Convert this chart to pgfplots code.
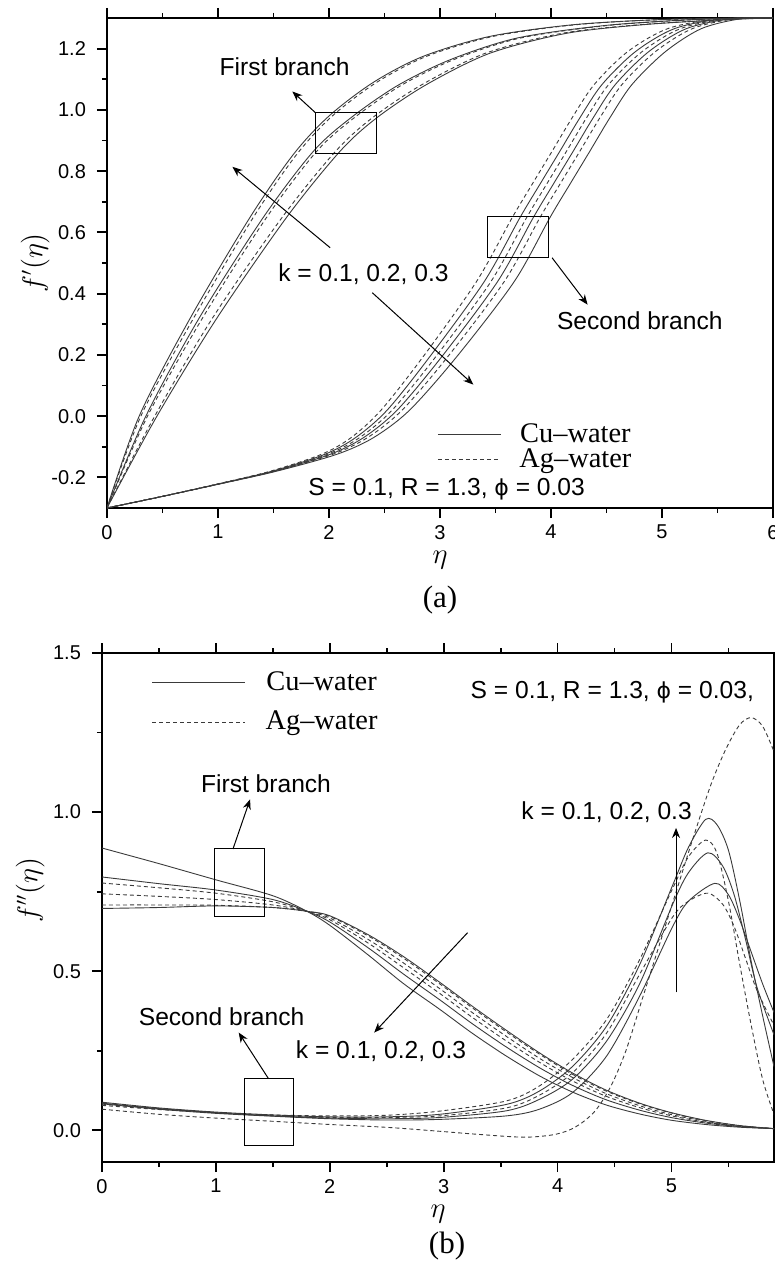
\documentclass[border=0pt]{standalone}
\usepackage{fontspec}
\setmainfont{Liberation Serif}
\setsansfont{Liberation Sans}
\newfontfamily\phifont{DejaVu Sans}
\usepackage{pgfplots}
\pgfplotsset{compat=1.18}
\usetikzlibrary{arrows.meta}

\definecolor{curveInk}{HTML}{3A3A3A}

\pgfplotsset{
  panel/.style={
    scale only axis,
    axis line style={line width=1pt, black},
    tick align=outside,
    xtick pos=both, xticklabel pos=lower,
    ytick pos=left,
    major tick length=5pt, minor tick length=2.5pt,
    every tick/.style={line width=0.9pt, black},
    tick label style={font=\fontsize{10}{12}\sffamily, /pgf/number format/assume math mode=true},
    yticklabel style={xshift=-2pt, /pgf/number format/.cd, fixed, fixed zerofill, precision=1},
    label style={font=\fontsize{13.5}{16}\selectfont},
    every axis plot/.append style={line width=0.45pt, color=curveInk},
    legend style={draw=none, fill=none, font=\fontsize{14.2}{17}\rmfamily,
      nodes={inner sep=0pt}},
  },
  cu/.style={solid, smooth},
  ag/.style={dash pattern=on 2pt off 1.5pt, smooth},
}

\newcommand{\note}{\fontsize{12.3}{14}\sffamily}
\newcommand{\phisym}{{\phifont\fontsize{11}{13}\selectfont ϕ}}

\begin{document}
\begin{tikzpicture}
\useasboundingbox (0,0) rectangle (387.5pt,-633.5pt);

% ---------------- (a) f'(eta) ----------------
\begin{axis}[panel,
  at={(53.5pt,-254pt)}, anchor=south west,
  width=333pt, height=245pt,
  xmin=0, xmax=6, ymin=-0.3, ymax=1.3,
  xtick={0,1,2,3,4,5,6}, minor xtick={0.5,1.5,2.5,3.5,4.5,5.5},
  ytick={-0.2,0,0.2,0.4,0.6,0.8,1.0,1.2}, minor ytick={-0.1,0.1,0.3,0.5,0.7,0.9,1.1},
  xlabel={$\eta$}, ylabel={$f'(\eta)$},
  xlabel style={at={(axis description cs:0.5,-0.107)}, anchor=center},
  ylabel style={at={(axis description cs:-0.108,0.5)}, anchor=center},
  legend image code/.code={\draw[#1] (0pt,0pt) -- (31.5pt,0pt);},
  legend style={at={(axis cs:2.92,-0.01)}, anchor=north west, row sep=1.8pt,
    /tikz/every odd column/.append style={column sep=9pt}},
]
\addlegendimage{cu}\addlegendentry{Cu--water}
\addlegendimage{ag}\addlegendentry{Ag--water}

% first branch
\addplot[cu] coordinates {(0,-0.3) (0.29,0) (0.75,0.32) (1.29,0.65) (1.68,0.855) (2.0,0.98) (2.4,1.09) (2.85,1.175) (3.45,1.24) (4.2,1.278) (5.0,1.295) (5.8,1.3) (6,1.3)};
\addplot[ag] coordinates {(0,-0.3) (0.305,0) (0.78,0.32) (1.32,0.65) (1.71,0.855) (2.03,0.98) (2.43,1.09) (2.88,1.175) (3.48,1.24) (4.224,1.278) (5.015,1.295) (5.806,1.3) (6,1.3)};
\addplot[cu] coordinates {(0,-0.3) (0.35,0) (0.83,0.32) (1.41,0.65) (1.86,0.865) (2.2,0.975) (2.62,1.08) (3.1,1.165) (3.7,1.235) (4.5,1.276) (5.3,1.295) (5.9,1.3)};
\addplot[ag] coordinates {(0,-0.3) (0.365,0) (0.86,0.32) (1.44,0.65) (1.89,0.865) (2.23,0.975) (2.65,1.08) (3.13,1.165) (3.73,1.235) (4.524,1.276) (5.315,1.295) (5.9,1.3)};
\addplot[cu] coordinates {(0,-0.3) (0.45,0) (0.99,0.32) (1.62,0.65) (2.10,0.865) (2.43,0.974) (2.88,1.083) (3.45,1.185) (4.14,1.25) (4.86,1.279) (5.6,1.295) (6,1.3)};
\addplot[ag] coordinates {(0,-0.3) (0.43,0) (0.95,0.32) (1.58,0.65) (2.06,0.865) (2.39,0.974) (2.84,1.083) (3.41,1.185) (4.10,1.25) (4.828,1.279) (5.58,1.295) (6,1.3)};

% second branch
\addplot[ag] coordinates {(0,-0.3) (0.5,-0.262) (0.99,-0.222) (1.47,-0.18) (1.93,-0.125) (2.20,-0.07) (2.47,0.02) (2.85,0.195) (3.33,0.44) (3.65,0.648) (3.83,0.757) (4.01,0.865) (4.19,0.974) (4.39,1.083) (4.69,1.19) (5.05,1.265) (5.50,1.297) (6.0,1.3)};
\addplot[cu] coordinates {(0,-0.3) (0.5,-0.262) (0.995,-0.222) (1.485,-0.18) (1.96,-0.125) (2.24,-0.07) (2.525,0.02) (2.91,0.195) (3.40,0.44) (3.72,0.648) (3.90,0.757) (4.08,0.865) (4.26,0.974) (4.46,1.083) (4.76,1.19) (5.11,1.265) (5.54,1.297) (6.0,1.3)};
\addplot[ag] coordinates {(0,-0.3) (0.5,-0.262) (0.998,-0.222) (1.494,-0.18) (1.984,-0.125) (2.276,-0.07) (2.57,0.02) (2.964,0.195) (3.46,0.44) (3.78,0.648) (3.96,0.757) (4.14,0.865) (4.32,0.974) (4.52,1.083) (4.82,1.19) (5.164,1.265) (5.576,1.297) (6.0,1.3)};
\addplot[cu] coordinates {(0,-0.3) (0.5,-0.262) (1.001,-0.222) (1.503,-0.18) (2.008,-0.125) (2.312,-0.07) (2.615,0.02) (3.018,0.195) (3.52,0.44) (3.84,0.648) (4.02,0.757) (4.20,0.865) (4.38,0.974) (4.58,1.083) (4.88,1.19) (5.218,1.265) (5.612,1.297) (6.0,1.3)};
\addplot[ag] coordinates {(0,-0.3) (0.5,-0.262) (1.004,-0.222) (1.512,-0.18) (2.032,-0.125) (2.348,-0.07) (2.66,0.02) (3.072,0.195) (3.58,0.44) (3.90,0.648) (4.08,0.757) (4.26,0.865) (4.44,0.974) (4.64,1.083) (4.94,1.19) (5.272,1.265) (5.648,1.297) (6.0,1.3)};
\addplot[cu] coordinates {(0,-0.3) (0.5,-0.262) (1.0085,-0.222) (1.5255,-0.18) (2.068,-0.125) (2.402,-0.07) (2.7275,0.02) (3.153,0.195) (3.67,0.44) (3.99,0.648) (4.17,0.757) (4.35,0.865) (4.53,0.974) (4.73,1.083) (5.03,1.19) (5.353,1.265) (5.702,1.297) (6.0,1.3)};

% annotations
\draw[line width=0.5pt] (axis cs:1.88,0.857) rectangle (axis cs:2.43,0.99);
\draw[line width=0.5pt, -{Stealth[length=5pt,width=4pt]}] (axis cs:1.88,0.99) -- (axis cs:1.67,1.06);
\node[font=\note] at (axis cs:1.60,1.14) {First branch};
\draw[line width=0.5pt, -{Stealth[length=5pt,width=4pt]}] (axis cs:2.01,0.55) -- (axis cs:1.13,0.814);
\node[font=\note] at (axis cs:2.31,0.462) {k = 0.1, 0.2, 0.3};
\draw[line width=0.5pt, -{Stealth[length=5pt,width=4pt]}] (axis cs:2.39,0.403) -- (axis cs:3.30,0.103);
\draw[line width=0.5pt] (axis cs:3.43,0.517) rectangle (axis cs:3.98,0.651);
\draw[line width=0.5pt, -{Stealth[length=5pt,width=4pt]}] (axis cs:4.01,0.517) -- (axis cs:4.33,0.364);
\node[font=\note] at (axis cs:4.80,0.312) {Second branch};
\node[font=\note] at (axis cs:3.06,-0.239) {S = 0.1, R = 1.3, \phisym\ = 0.03};
\end{axis}
\node[font=\fontsize{15.5}{18}\rmfamily] at (220pt,-300pt) {(a)};

% ---------------- (b) f''(eta) ----------------
\begin{axis}[panel,
  at={(51pt,-581pt)}, anchor=south west,
  width=336pt, height=254.5pt,
  xmin=0, xmax=5.9, ymin=-0.1, ymax=1.5,
  xtick={0,1,2,3,4,5}, minor xtick={0.5,1.5,2.5,3.5,4.5,5.5},
  ytick={0,0.5,1.0,1.5}, minor ytick={0.25,0.75,1.25},
  xlabel={$\eta$}, ylabel={$f''(\eta)$},
  xlabel style={at={(axis description cs:0.5,-0.103)}, anchor=center},
  ylabel style={at={(axis description cs:-0.107,0.534)}, anchor=center},
  legend image code/.code={\draw[#1] (0pt,0pt) -- (46.5pt,0pt);},
  legend style={at={(axis cs:0.38,1.455)}, anchor=north west, row sep=8.8pt,
    /tikz/every odd column/.append style={column sep=10pt}},
]
\addlegendimage{cu}\addlegendentry{Cu--water}
\addlegendimage{ag}\addlegendentry{Ag--water}

% first branch
\addplot[cu] coordinates {(0,0.887) (0.5,0.838) (1.0,0.787) (1.5,0.737) (1.8,0.688) (2.0,0.644) (2.34,0.55) (2.65,0.46) (2.965,0.38) (3.25,0.305) (3.55,0.233) (3.85,0.169) (4.13,0.12) (4.42,0.08) (4.72,0.051) (5.0,0.0312) (5.3,0.018) (5.6,0.0094) (5.9,0.005)};
\addplot[cu] coordinates {(0,0.796) (0.5,0.775) (1.0,0.755) (1.5,0.725) (1.8,0.688) (2.0,0.6545) (2.34,0.5725) (2.65,0.49) (2.965,0.41) (3.25,0.335) (3.55,0.2615) (3.85,0.1945) (4.13,0.141) (4.42,0.0965) (4.72,0.063) (5.0,0.0396) (5.3,0.0225) (5.6,0.0112) (5.9,0.005)};
\addplot[ag] coordinates {(0,0.777) (0.5,0.762) (1.0,0.745) (1.5,0.718) (1.8,0.688) (2.0,0.6615) (2.34,0.5875) (2.65,0.51) (2.965,0.43) (3.25,0.355) (3.55,0.2805) (3.85,0.2115) (4.13,0.155) (4.42,0.1075) (4.72,0.071) (5.0,0.0452) (5.3,0.0255) (5.6,0.0124) (5.9,0.005)};
\addplot[ag] coordinates {(0,0.743) (0.5,0.735) (1.0,0.725) (1.5,0.708) (1.8,0.688) (2.0,0.667) (2.34,0.599) (2.65,0.525) (2.965,0.445) (3.25,0.37) (3.55,0.295) (3.85,0.224) (4.13,0.166) (4.42,0.116) (4.72,0.077) (5.0,0.049) (5.3,0.028) (5.6,0.013) (5.9,0.005)};
\addplot[ag] coordinates {(0,0.708) (0.5,0.708) (1.0,0.707) (1.5,0.700) (1.8,0.688) (2.0,0.672) (2.34,0.61) (2.65,0.54) (2.965,0.46) (3.25,0.385) (3.55,0.309) (3.85,0.237) (4.13,0.176) (4.42,0.124) (4.72,0.083) (5.0,0.054) (5.3,0.03) (5.6,0.014) (5.9,0.005)};
\addplot[cu] coordinates {(0,0.697) (0.5,0.700) (1.0,0.705) (1.5,0.700) (1.8,0.688) (2.0,0.674) (2.34,0.614) (2.65,0.545) (2.965,0.465) (3.25,0.39) (3.55,0.314) (3.85,0.241) (4.13,0.18) (4.42,0.127) (4.72,0.085) (5.0,0.055) (5.3,0.031) (5.6,0.0145) (5.9,0.005)};

% second branch
\addplot[ag] coordinates {(0,0.078) (0.5,0.065) (1.0,0.055) (1.5,0.048) (2.0,0.045) (2.5,0.047) (2.965,0.06) (3.55,0.092) (3.84,0.139) (4.13,0.222) (4.43,0.348) (4.72,0.536) (5.01,0.76) (5.15,0.86) (5.3,0.912) (5.4,0.87) (5.5,0.72) (5.6,0.52) (5.7,0.33) (5.8,0.16) (5.9,0.05)};
\addplot[cu] coordinates {(0,0.088) (0.5,0.07) (1.0,0.057) (1.5,0.048) (2.0,0.042) (2.5,0.042) (2.965,0.05) (3.55,0.081) (3.84,0.123) (4.13,0.2) (4.43,0.327) (4.72,0.52) (5.01,0.77) (5.15,0.89) (5.3,0.977) (5.4,0.96) (5.5,0.88) (5.6,0.72) (5.7,0.53) (5.8,0.36) (5.9,0.2)};
\addplot[cu] coordinates {(0,0.085) (0.5,0.068) (1.0,0.055) (1.5,0.045) (2.0,0.038) (2.5,0.036) (2.965,0.04) (3.55,0.061) (3.84,0.097) (4.13,0.16) (4.43,0.28) (4.72,0.46) (5.01,0.71) (5.15,0.81) (5.32,0.872) (5.45,0.83) (5.55,0.74) (5.65,0.6) (5.75,0.45) (5.9,0.3)};
\addplot[ag] coordinates {(0,0.082) (0.5,0.067) (1.0,0.055) (1.5,0.046) (2.0,0.04) (2.5,0.04) (2.965,0.045) (3.55,0.07) (3.84,0.11) (4.13,0.18) (4.43,0.305) (4.72,0.49) (5.01,0.67) (5.15,0.72) (5.32,0.745) (5.45,0.71) (5.55,0.64) (5.65,0.54) (5.75,0.44) (5.9,0.33)};
\addplot[cu] coordinates {(0,0.083) (0.5,0.066) (1.0,0.053) (1.5,0.044) (2.0,0.036) (2.5,0.032) (2.965,0.034) (3.55,0.045) (3.84,0.066) (4.13,0.118) (4.43,0.233) (4.72,0.421) (5.01,0.64) (5.15,0.72) (5.38,0.776) (5.5,0.74) (5.6,0.66) (5.7,0.56) (5.8,0.46) (5.9,0.37)};
\addplot[ag] coordinates {(0,0.066) (0.5,0.05) (1.0,0.038) (1.5,0.028) (2.0,0.018) (2.5,0.009) (2.95,-0.003) (3.3,-0.013) (3.7,-0.022) (3.95,-0.015) (4.1,0.0) (4.22,0.025) (4.34,0.065) (4.47,0.14) (4.6,0.25) (4.75,0.42) (4.9,0.59) (5.05,0.76) (5.2,0.93) (5.35,1.09) (5.48,1.2) (5.6,1.275) (5.7,1.297) (5.8,1.27) (5.9,1.19)};

% annotations
\draw[line width=0.5pt] (axis cs:0.99,0.671) rectangle (axis cs:1.43,0.884);
\draw[line width=0.5pt, -{Stealth[length=5pt,width=4pt]}] (axis cs:1.15,0.884) -- (axis cs:1.30,1.04);
\node[font=\note] at (axis cs:1.44,1.09) {First branch};
\draw[line width=0.5pt] (axis cs:1.25,-0.047) rectangle (axis cs:1.68,0.163);
\draw[line width=0.5pt, -{Stealth[length=5pt,width=4pt]}] (axis cs:1.46,0.163) -- (axis cs:1.20,0.307);
\node[font=\note] at (axis cs:1.05,0.357) {Second branch};
\draw[line width=0.5pt, -{Stealth[length=5pt,width=4pt]}] (axis cs:3.21,0.621) -- (axis cs:2.39,0.307);
\node[font=\note] at (axis cs:2.45,0.248) {k = 0.1, 0.2, 0.3};
\draw[line width=0.5pt, -{Stealth[length=5pt,width=4pt]}] (axis cs:5.04,0.433) -- (axis cs:5.04,0.95);
\node[font=\note] at (axis cs:4.43,1.0) {k = 0.1, 0.2, 0.3};
\node[font=\note] at (axis cs:4.48,1.376) {S = 0.1, R = 1.3, \phisym\ = 0.03,};
\end{axis}
\node[font=\fontsize{15.5}{18}\rmfamily] at (223.5pt,-623pt) {(b)};
\end{tikzpicture}
\end{document}
